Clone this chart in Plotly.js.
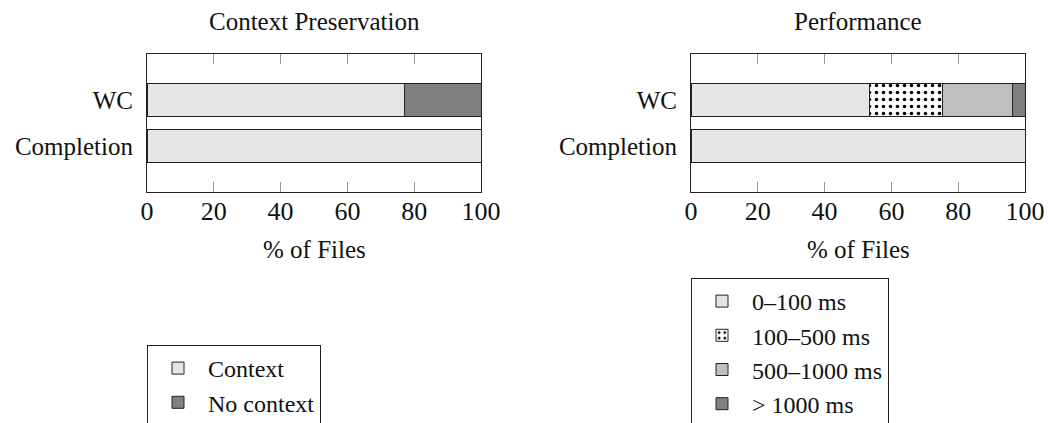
<!DOCTYPE html>
<html>
<head>
<meta charset="utf-8">
<script src="https://cdn.plot.ly/plotly-3.0.1.min.js"></script>
<style>html,body{margin:0;padding:0;background:#fff;}#chart{width:1048px;height:423px;}</style>
</head>
<body>
<div id="chart"></div>
<script>
// ---- data ----
const categories = ['WC', 'Completion'];
const contextSeries = [77, 100];
const noContextSeries = [23, 0];
const perf0to100 = [53.5, 100];
const perf100to500 = [21.8, 0];
const perf500to1000 = [21.0, 0];
const perfOver1000 = [3.7, 0];
const xTicks = [0, 20, 40, 60, 80, 100];

const FONT = '"Liberation Serif", "Times New Roman", Times, serif';
const lineStyle = {color: '#222', width: 1};

function bar(name, vals, color, xa, ya, legend, pattern) {
  const m = {color: color, line: lineStyle};
  if (pattern) m.pattern = pattern;
  return {type: 'bar', orientation: 'h', name: name, x: vals, y: categories,
          xaxis: xa, yaxis: ya, legend: legend, marker: m, hoverinfo: 'x+name'};
}

const traces = [
  bar('Context', contextSeries, '#e5e5e5', 'x', 'y', 'legend'),
  bar('No context', noContextSeries, '#808080', 'x', 'y', 'legend'),
  bar('0–100 ms', perf0to100, '#e5e5e5', 'x2', 'y2', 'legend2'),
  bar('100–500 ms', perf100to500, '#ffffff', 'x2', 'y2', 'legend2',
      {shape: '.', fgcolor: '#000', bgcolor: '#fff', size: 7, solidity: 0.2}),
  bar('500–1000 ms', perf500to1000, '#bfbfbf', 'x2', 'y2', 'legend2'),
  bar('> 1000 ms', perfOver1000, '#808080', 'x2', 'y2', 'legend2')
];

const W = 1048, H = 423;
const px = v => v / W, py = v => 1 - v / H;

function xaxis(d0, d1, anchor) {
  return {domain: [px(d0), px(d1)], anchor: anchor, range: [0, 100], tickvals: xTicks,
          ticks: 'inside', ticklen: 10, tickcolor: '#999', tickwidth: 1,
          showline: true, linecolor: '#222', linewidth: 1, mirror: 'ticks',
          showgrid: false, zeroline: false, fixedrange: true, ticklabelstandoff: -4,
          tickfont: {family: FONT, size: 26, color: '#111'}};
}
function yaxis(anchor) {
  return {domain: [py(192), py(54)], anchor: anchor, type: 'category',
          categoryorder: 'array', categoryarray: categories, range: [2, -1],
          showline: true, linecolor: '#222', linewidth: 1, mirror: true,
          ticks: '', showgrid: false, zeroline: false, fixedrange: true,
          ticklabelstandoff: 8, tickfont: {family: FONT, size: 25, color: '#111'}};
}

const legendBase = {bgcolor: '#fff', bordercolor: '#222', borderwidth: 1,
  font: {family: FONT, size: 24, color: '#111'}, xanchor: 'left', yanchor: 'top',
  itemwidth: 50, traceorder: 'normal', itemclick: false, itemdoubleclick: false};

const layout = {
  width: W, height: H,
  margin: {l: 0, r: 0, t: 0, b: 0, autoexpand: false},
  paper_bgcolor: '#fff', plot_bgcolor: '#fff',
  barmode: 'stack', bargap: 0.283,
  font: {family: FONT, color: '#111'},
  xaxis: xaxis(147, 481, 'y'),
  yaxis: yaxis('x'),
  xaxis2: xaxis(691, 1025, 'y2'),
  yaxis2: yaxis('x2'),
  legend: Object.assign({}, legendBase, {x: px(147), y: py(345)}),
  legend2: Object.assign({}, legendBase, {x: px(691), y: py(278)}),
  annotations: [
    {text: 'Context Preservation', x: px(314), y: py(22), xref: 'paper', yref: 'paper',
     showarrow: false, xanchor: 'center', yanchor: 'middle', font: {family: FONT, size: 25, color: '#111'}},
    {text: 'Performance', x: px(858), y: py(22), xref: 'paper', yref: 'paper',
     showarrow: false, xanchor: 'center', yanchor: 'middle', font: {family: FONT, size: 25, color: '#111'}},
    {text: '% of Files', x: px(314), y: py(250), xref: 'paper', yref: 'paper',
     showarrow: false, xanchor: 'center', yanchor: 'middle', font: {family: FONT, size: 25, color: '#111'}},
    {text: '% of Files', x: px(858), y: py(250), xref: 'paper', yref: 'paper',
     showarrow: false, xanchor: 'center', yanchor: 'middle', font: {family: FONT, size: 25, color: '#111'}}
  ]
};

Plotly.newPlot('chart', traces, layout, {displayModeBar: false});
</script>
</body>
</html>
